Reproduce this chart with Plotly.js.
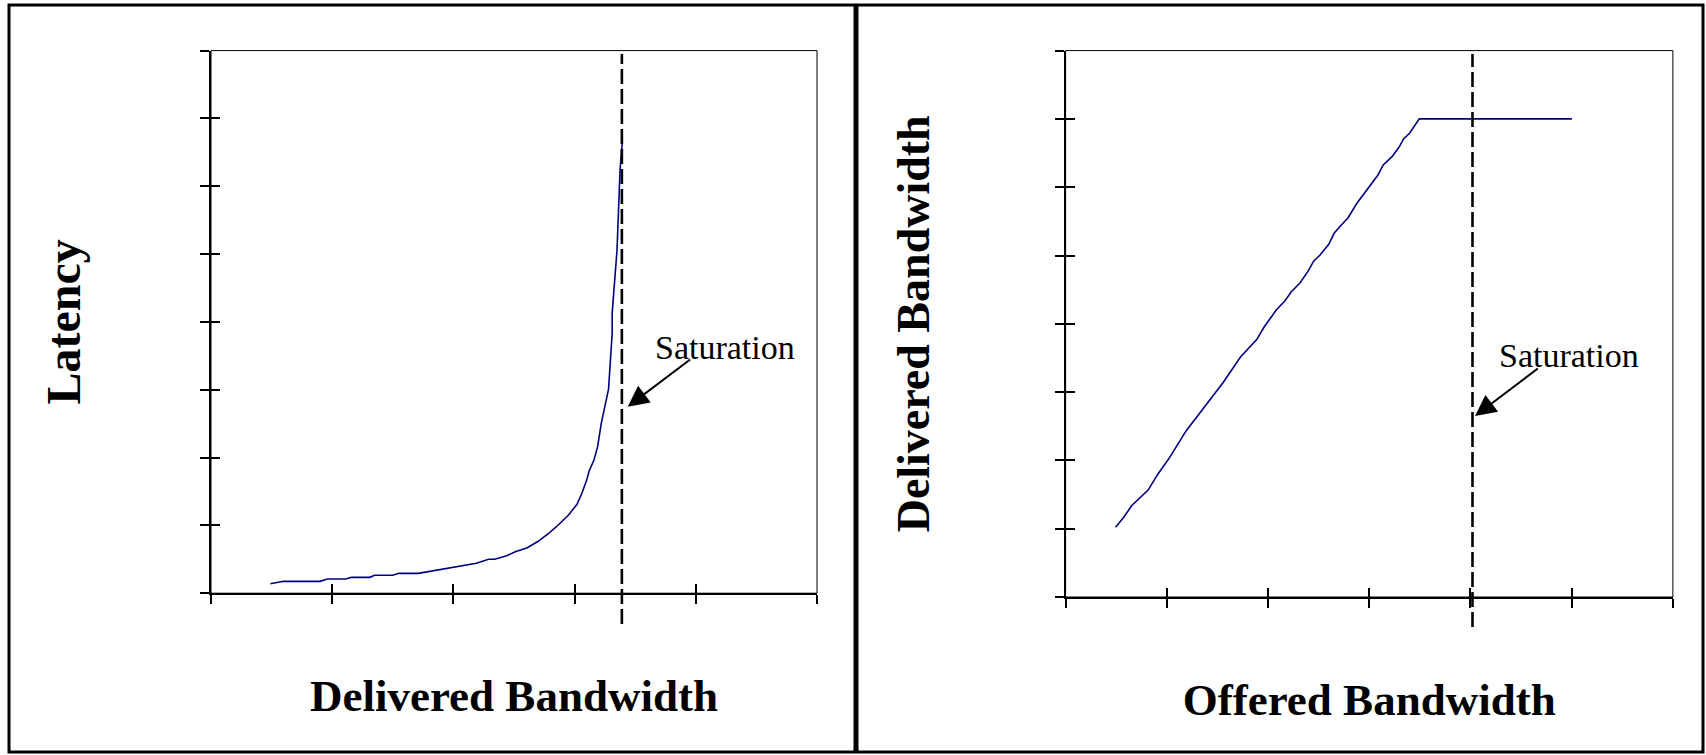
<!DOCTYPE html>
<html>
<head>
<meta charset="utf-8">
<script src="https://cdn.plot.ly/plotly-3.0.1.min.js"></script>
<style>
  html, body { margin: 0; padding: 0; background: #ffffff; }
  #chart { width: 1706px; height: 755px; }
</style>
</head>
<body>
<div id="chart"></div>
<script>
// ---------- Left panel: Latency vs Delivered Bandwidth ----------
const deliveredBandwidth = [0.49, 0.60, 0.90, 0.96, 1.11, 1.16, 1.31, 1.35, 1.50, 1.55, 1.71, 1.92, 2.19, 2.29, 2.34, 2.44, 2.51, 2.61, 2.70, 2.78, 2.85, 2.95, 3.02, 3.06, 3.10, 3.12, 3.16, 3.19, 3.22, 3.28, 3.31, 3.31, 3.35, 3.375, 3.394];
const latency            = [0.14, 0.175, 0.175, 0.21, 0.21, 0.234, 0.234, 0.264, 0.264, 0.293, 0.293, 0.357, 0.441, 0.50, 0.50, 0.553, 0.612, 0.671, 0.765, 0.873, 0.98, 1.153, 1.311, 1.473, 1.669, 1.802, 1.964, 2.16, 2.505, 3.01, 3.83, 4.13, 5.06, 6.24, 6.66];
const saturationDelivered = 3.39;

// ---------- Right panel: Delivered vs Offered Bandwidth ----------
const offeredBandwidth = [0.493, 0.573, 0.654, 0.815, 0.911, 1.029, 1.190, 1.351, 1.485, 1.555, 1.726, 1.890, 1.960, 2.022, 2.081, 2.168, 2.230, 2.313, 2.393, 2.452, 2.514, 2.600, 2.653, 2.715, 2.791, 2.878, 2.999, 3.086, 3.138, 3.225, 3.294, 3.339, 3.398, 3.494, 5.002];
const deliveredAtOffer = [1.02, 1.163, 1.34, 1.565, 1.798, 2.044, 2.432, 2.748, 2.996, 3.136, 3.511, 3.773, 3.949, 4.081, 4.202, 4.338, 4.47, 4.593, 4.763, 4.92, 5.007, 5.164, 5.325, 5.432, 5.553, 5.764, 6.007, 6.179, 6.325, 6.447, 6.584, 6.706, 6.789, 7.0, 7.0];
const saturationOffered = 4.02;

// ---------- Texts ----------
const leftXTitle = 'Delivered Bandwidth';
const leftYTitle = 'Latency';
const rightXTitle = 'Offered Bandwidth';
const rightYTitle = 'Delivered Bandwidth';
const saturationLabel = 'Saturation';

const W = 1706, H = 755;
const SERIF = 'Liberation Serif, Times New Roman, serif';
const lineColor = '#000080';

function titleFont(size) {
  return { family: SERIF, size: size, color: '#000000', weight: 'bold' };
}

function mainAxis(range, domain, anchor, titleText, fontSize, standoff) {
  return {
    range: range, domain: domain, anchor: anchor,
    dtick: 1, tick0: 0,
    showgrid: false, zeroline: false,
    showline: true, linecolor: '#000000', linewidth: 2,
    ticks: 'outside', ticklen: 9, tickwidth: 2, tickcolor: '#000000',
    showticklabels: false, fixedrange: true, automargin: false,
    title: { text: titleText, font: titleFont(fontSize), standoff: standoff }
  };
}
function innerTickAxis(range, overlaying, anchor) {
  return {
    range: range, overlaying: overlaying, anchor: anchor,
    dtick: 1, tick0: 0,
    showgrid: false, zeroline: false, showline: false,
    ticks: 'inside', ticklen: 9, tickwidth: 2, tickcolor: '#000000',
    showticklabels: false, fixedrange: true, automargin: false
  };
}

const lxDom = [211 / W, 817 / W];
const lyDom = [(H - 593.2) / H, (H - 50.6) / H];
const rxDom = [1065.6 / W, 1672.9 / W];
const ryDom = [(H - 597) / H, (H - 50.6) / H];

const traces = [
  {
    x: deliveredBandwidth, y: latency, xaxis: 'x', yaxis: 'y',
    type: 'scatter', mode: 'lines',
    line: { color: lineColor, width: 1.6 }, hoverinfo: 'skip', showlegend: false
  },
  {
    x: offeredBandwidth, y: deliveredAtOffer, xaxis: 'x2', yaxis: 'y2',
    type: 'scatter', mode: 'lines',
    line: { color: lineColor, width: 1.6 }, hoverinfo: 'skip', showlegend: false
  },
  // empty traces that only register the overlaid tick axes (inner half of the crossing ticks)
  { x: [], y: [], xaxis: 'x3', yaxis: 'y3', type: 'scatter', mode: 'lines', hoverinfo: 'skip', showlegend: false },
  { x: [], y: [], xaxis: 'x4', yaxis: 'y4', type: 'scatter', mode: 'lines', hoverinfo: 'skip', showlegend: false }
];

const dashStyle = { color: '#000000', width: 2.6, dash: '15px,5px' };

const layout = {
  width: W, height: H,
  margin: { l: 0, r: 0, t: 0, b: 0, pad: 0 },
  paper_bgcolor: '#ffffff', plot_bgcolor: 'rgba(0,0,0,0)',
  showlegend: false,
  font: { family: SERIF, color: '#000000' },
  xaxis: mainAxis([0, 5], lxDom, 'y', leftXTitle, 45, 76),
  yaxis: mainAxis([0, 8], lyDom, 'x', leftYTitle, 48, 104),
  xaxis2: mainAxis([0, 6], rxDom, 'y2', rightXTitle, 45, 76),
  yaxis2: mainAxis([0, 8], ryDom, 'x2', rightYTitle, 46, 110),
  xaxis3: innerTickAxis([0, 5], 'x', 'y'),
  yaxis3: innerTickAxis([0, 8], 'y', 'x'),
  xaxis4: innerTickAxis([0, 6], 'x2', 'y2'),
  yaxis4: innerTickAxis([0, 8], 'y2', 'x2'),
  shapes: [
    // panel frames
    { type: 'rect', xref: 'paper', yref: 'paper', x0: 9 / W, x1: 855 / W, y0: 3 / H, y1: (H - 5) / H,
      line: { color: '#000000', width: 3 }, fillcolor: 'rgba(0,0,0,0)' },
    { type: 'rect', xref: 'paper', yref: 'paper', x0: 857 / W, x1: 1703 / W, y0: 3 / H, y1: (H - 5) / H,
      line: { color: '#000000', width: 3 }, fillcolor: 'rgba(0,0,0,0)' },
    // thin plot-area frames (top and right edges)
    { type: 'rect', xref: 'x domain', yref: 'y domain', x0: 0, x1: 1, y0: 0, y1: 1,
      line: { color: '#000000', width: 1 }, fillcolor: 'rgba(0,0,0,0)' },
    { type: 'rect', xref: 'x2 domain', yref: 'y2 domain', x0: 0, x1: 1, y0: 0, y1: 1,
      line: { color: '#000000', width: 1 }, fillcolor: 'rgba(0,0,0,0)' },
    // saturation dashed lines (extend below the x axis)
    { type: 'line', xref: 'x', yref: 'paper', x0: saturationDelivered, x1: saturationDelivered,
      y0: (H - 624) / H, y1: (H - 54) / H, line: dashStyle },
    { type: 'line', xref: 'x2', yref: 'paper', x0: saturationOffered, x1: saturationOffered,
      y0: (H - 627) / H, y1: (H - 54) / H, line: dashStyle }
  ],
  annotations: [
    { xref: 'x', yref: 'y', x: 4.241, y: 3.63, text: saturationLabel, showarrow: false,
      xanchor: 'center', yanchor: 'middle', font: { family: SERIF, size: 34, color: '#000000' } },
    { xref: 'x', yref: 'y', axref: 'x', ayref: 'y', x: 3.438, y: 2.75, ax: 3.966, ay: 3.463,
      text: '', showarrow: true, arrowhead: 2, arrowsize: 2.1, arrowwidth: 2, arrowcolor: '#000000',
      standoff: 0, startstandoff: 0 },
    { xref: 'x2', yref: 'y2', x: 4.978, y: 3.531, text: saturationLabel, showarrow: false,
      xanchor: 'center', yanchor: 'middle', font: { family: SERIF, size: 34, color: '#000000' } },
    { xref: 'x2', yref: 'y2', axref: 'x2', ayref: 'y2', x: 4.045, y: 2.65, ax: 4.68, ay: 3.363,
      text: '', showarrow: true, arrowhead: 2, arrowsize: 2.1, arrowwidth: 2, arrowcolor: '#000000',
      standoff: 0, startstandoff: 0 }
  ]
};

Plotly.newPlot('chart', traces, layout, { staticPlot: true, displayModeBar: false });
</script>
</body>
</html>
